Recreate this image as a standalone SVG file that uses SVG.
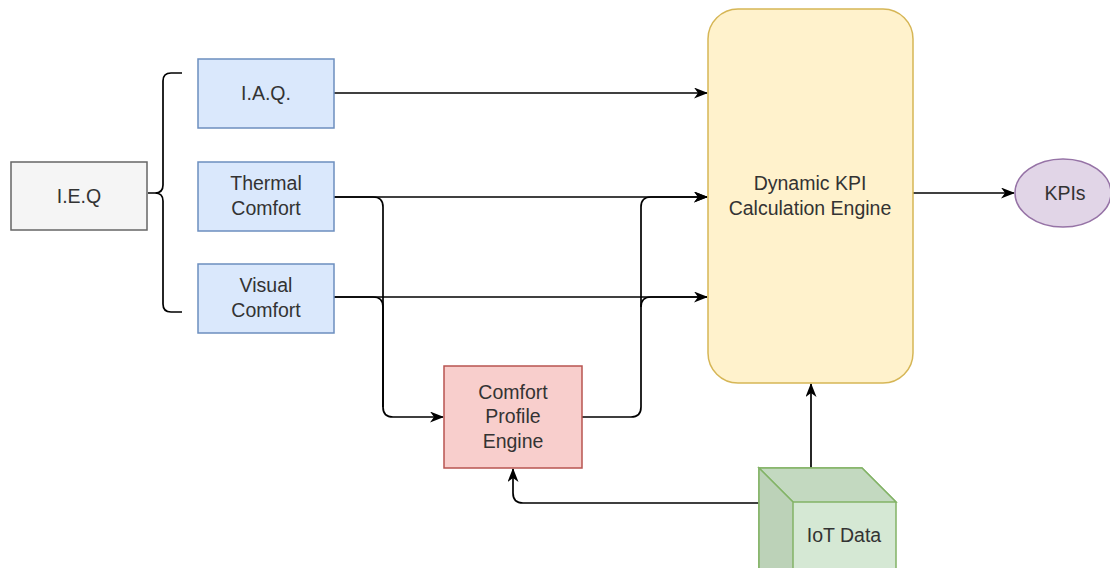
<svg xmlns="http://www.w3.org/2000/svg" width="1110" height="568" viewBox="0 0 1110 568">
<defs>
<style>
text{font-family:"Liberation Sans",Arial,sans-serif;font-size:19.5px;fill:#333;text-anchor:middle}
.edge{fill:none;stroke:#000;stroke-width:1.7}
.blue{fill:#dae8fc;stroke:#6c8ebf;stroke-width:1.5}
</style>
<marker id="arr" viewBox="0 0 14 11" refX="13" refY="5.5" markerWidth="14" markerHeight="11" markerUnits="userSpaceOnUse" orient="auto">
<path d="M0,0 L14,5.5 L0,11 L4,5.5 Z" fill="#000"/>
</marker>
</defs>
<rect width="1110" height="568" fill="#fff"/>
<g id="connectors">
<path class="edge" d="M148,193 H155 Q163,193 163,201 V304 Q163,312 171,312 H182 M155,193 Q163,193 163,185 V81 Q163,73 171,73 H182" stroke="#333"/>
<path class="edge" d="M334,93 H707" marker-end="url(#arr)"/>
<path class="edge" d="M334,197 H707" marker-end="url(#arr)"/>
<path class="edge" d="M334,297 H707" marker-end="url(#arr)"/>
<path class="edge" d="M334,197 H373 Q383,197 383,207 V407 Q383,417 393,417 H443" marker-end="url(#arr)"/>
<path class="edge" d="M334,297 H373 Q383,297 383,307 V407"/>
<path class="edge" d="M582,417 H631 Q641,417 641,407 V207 Q641,197 651,197 H707" marker-end="url(#arr)"/>
<path class="edge" d="M641,307 Q641,297 651,297 H707"/>
<path class="edge" d="M811,468 V384" marker-end="url(#arr)"/>
<path class="edge" d="M759,503 H523 Q513,503 513,493 V469" marker-end="url(#arr)"/>
<path class="edge" d="M913,193 H1014" marker-end="url(#arr)"/>
</g>
<g id="ieq">
<rect x="11" y="162" width="136" height="68" fill="#f5f5f5" stroke="#666" stroke-width="1.5"/>
<text x="79" y="203">I.E.Q</text>
</g>
<g id="iaq">
<rect class="blue" x="198" y="59" width="136" height="69"/>
<text x="266" y="100">I.A.Q.</text>
</g>
<g id="thermal">
<rect class="blue" x="198" y="162" width="136" height="69"/>
<text x="266" y="190">Thermal</text>
<text x="266" y="215">Comfort</text>
</g>
<g id="visual">
<rect class="blue" x="198" y="264" width="136" height="69"/>
<text x="266" y="292">Visual</text>
<text x="266" y="317">Comfort</text>
</g>
<g id="dynamic">
<rect x="708" y="9" width="205" height="374" rx="30" ry="30" fill="#fff2cc" stroke="#d6b656" stroke-width="1.5"/>
<text x="810" y="190">Dynamic KPI</text>
<text x="810" y="215">Calculation Engine</text>
</g>
<g id="kpis">
<ellipse cx="1063" cy="193" rx="48" ry="34" fill="#e1d5e7" stroke="#9673a6" stroke-width="1.5"/>
<text x="1065" y="200">KPIs</text>
</g>
<g id="comfort">
<rect x="444" y="366" width="138" height="102" fill="#f8cecc" stroke="#b85450" stroke-width="1.5"/>
<text x="513" y="399">Comfort</text>
<text x="513" y="423">Profile</text>
<text x="513" y="448">Engine</text>
</g>
<g id="iot">
<path d="M759,468 H862 L896,502 V620 H793 L759,586 Z" fill="#d5e8d4" stroke="#82b366" stroke-width="1.5"/>
<path d="M759,468 H862 L896,502 H793 Z" fill="#c3d9c0" stroke="#82b366" stroke-width="1.5"/>
<path d="M759,468 L793,502 V620 L759,586 Z" fill="#bcd2b8" stroke="#82b366" stroke-width="1.5"/>
<text x="844" y="542">IoT Data</text>
</g>
</svg>
